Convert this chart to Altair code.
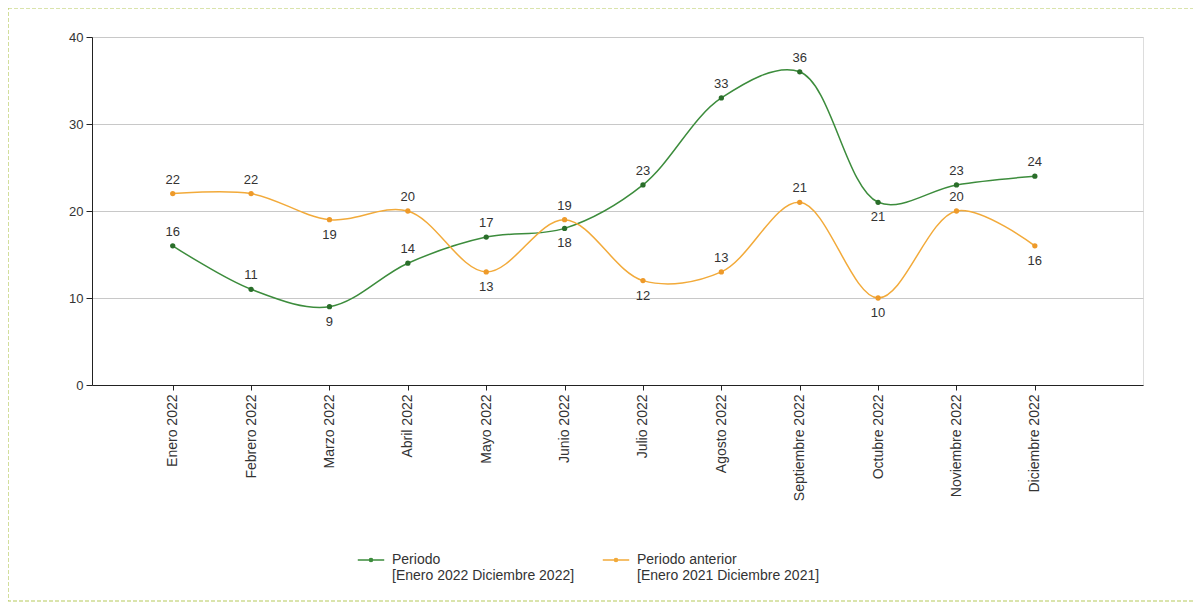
import altair as alt
import pandas as pd

MONTHS = ["Enero 2022", "Febrero 2022", "Marzo 2022", "Abril 2022", "Mayo 2022", "Junio 2022",
          "Julio 2022", "Agosto 2022", "Septiembre 2022", "Octubre 2022", "Noviembre 2022", "Diciembre 2022"]
SERIES = ["Periodo|\u00a0[Enero 2022 Diciembre 2022]", "Periodo anterior|\u00a0[Enero 2021 Diciembre 2021]"]
PERIODO = [16, 11, 9, 14, 17, 18, 23, 33, 36, 21, 23, 24]
ANTERIOR = [22, 22, 19, 20, 13, 19, 12, 13, 21, 10, 20, 16]
# label placement (a = above point, b = below point)
SIDE_PERIODO = ["a", "a", "b", "a", "a", "b", "a", "a", "a", "b", "a", "a"]
SIDE_ANTERIOR = ["a", "a", "b", "a", "b", "a", "b", "a", "a", "b", "a", "b"]

rows = []
for vals, sides, name in [(PERIODO, SIDE_PERIODO, SERIES[0]), (ANTERIOR, SIDE_ANTERIOR, SERIES[1])]:
    for i, (v, s) in enumerate(zip(vals, sides)):
        rows.append({"i": i, "mes": MONTHS[i], "valor": v, "serie": name, "lado": s})
df = pd.DataFrame(rows)

GREEN = "#3c8c3c"
ORANGE = "#f2aa3a"
FONT = "Liberation Sans"

label_expr = "[" + ",".join("'%s'" % m for m in MONTHS) + "][datum.value]"

x = alt.X("i:Q", scale=alt.Scale(domain=[-1.03, 12.38], nice=False, zero=False),
          axis=alt.Axis(values=list(range(12)), labelExpr=label_expr, labelAngle=-90,
                        title=None, grid=False, domainColor="#222", tickColor="#222",
                        tickSize=5, labelFontSize=14, labelColor="#333", labelFont=FONT,
                        labelPadding=4))
y = alt.Y("valor:Q", scale=alt.Scale(domain=[0, 40], nice=False),
          axis=alt.Axis(values=[0, 10, 20, 30, 40], title=None, grid=True, gridColor="#c8c8c8",
                        domainColor="#222", tickColor="#222", tickSize=6, labelFontSize=13,
                        labelColor="#333", labelFont=FONT, labelPadding=3))
color = alt.Color("serie:N", scale=alt.Scale(domain=SERIES, range=[GREEN, ORANGE]),
                  legend=alt.Legend(title=None, orient="none", legendX=265, legendY=509,
                                    direction="horizontal", columns=2,
                                    symbolType="M-1,0H1M0.12,0A0.12,0.12 0 1,1 -0.12,0A0.12,0.12 0 1,1 0.12,0Z",
                                    symbolSize=700, symbolStrokeWidth=1.5,
                                    labelExpr="split(datum.label, '|')",
                                    labelFontSize=14, labelFont=FONT, labelColor="#333",
                                    labelLimit=300, labelOffset=7, columnPadding=24, symbolOffset=0))

base = alt.Chart(df)
lines = base.mark_line(interpolate="catmull-rom", strokeWidth=1.5).encode(x=x, y=y, color=color)
points = base.mark_circle(size=28, opacity=1).encode(
    x=x, y=y,
    color=alt.Color("serie:N", scale=alt.Scale(domain=SERIES, range=["#2a6e2a", "#ee9a2a"]), legend=None))
above = base.transform_filter("datum.lado == 'a'").mark_text(dy=-14, fontSize=13, font=FONT, color="#333").encode(
    x=x, y=y, text="valor:Q")
below = base.transform_filter("datum.lado == 'b'").mark_text(dy=15, fontSize=13, font=FONT, color="#333").encode(
    x=x, y=y, text="valor:Q")

border = alt.Chart(pd.DataFrame({"k": [0]})).mark_rect(
    fill=None, stroke="#b5c95a", strokeDash=[4, 2], strokeWidth=1.2).encode(
    x=alt.value(-84), x2=alt.value(1103), y=alt.value(-29), y2=alt.value(564))

chart = alt.layer(border, lines, points, above, below).resolve_scale(color="independent").properties(
    width=1051, height=348,
    autosize=alt.AutoSizeParams(type="none"),
    padding={"left": 84, "top": 29, "right": 50, "bottom": 217},
).configure_view(stroke=None).configure(background="white")

chart.save("out.html", embed_options={"renderer": "svg", "actions": False})
